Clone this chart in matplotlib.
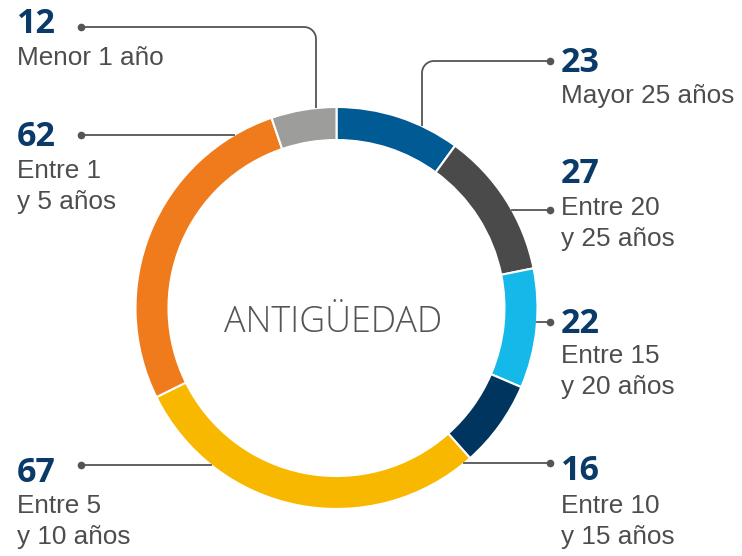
import numpy as np
import matplotlib
matplotlib.use("Agg")
import matplotlib.pyplot as plt

# ---- data ----
values = [23, 27, 22, 16, 67, 62, 12]
labels = ["Mayor 25 años", "Entre 20\ny 25 años", "Entre 15\ny 20 años",
          "Entre 10\ny 15 años", "Entre 5\ny 10 años", "Entre 1\ny 5 años",
          "Menor 1 año"]
colors = ["#005a94", "#4a4a4a", "#14b9ea", "#00355f", "#f9b800", "#f07b1c", "#9d9d9c"]
center_title = "ANTIGÜEDAD"

# ---- layout (pixel space, y down) ----
W, H = 742, 556
CX, CY, R, RING = 336.5, 308, 201, 33
side = ["R", "R", "R", "R", "L", "L", "L"]
dot_y = [61, 210, 322, 463, 465, 135, 27]
num_base = [72, 183, 333, 480, 482, 146, 33]
lab_base = [103, 215, 363, 513, 513, 178, 65]
vert_x = {0: 422, 6: 316}  # leaders that bend down to the ring

NUM_COLOR = "#0a3a68"
LAB_COLOR = "#4d4d4d"
LINE_COLOR = "#555555"

fig = plt.figure(figsize=(W / 100, H / 100), dpi=100)
ax = fig.add_axes([0, 0, 1, 1])

def Y(y):
    return H - y

ax.pie(values, colors=colors, startangle=90, counterclock=False,
       center=(CX, Y(CY)), radius=R,
       wedgeprops=dict(width=RING, edgecolor="white", linewidth=1.5))

ax.set_xlim(0, W)
ax.set_ylim(0, H)
ax.set_aspect("equal")
ax.axis("off")

ax.text(CX - 3, Y(332), center_title, ha="center", va="baseline",
        fontsize=25.8, color="#555555", family="Open Sans", fontweight="light")

for i, v in enumerate(values):
    s = side[i]
    dy = dot_y[i]
    dx = 550 if s == "R" else 81
    tx = 561 if s == "R" else 17
    if i in vert_x:
        vx = vert_x[i]
        ry = CY - np.sqrt(R ** 2 - (vx - CX) ** 2)
        rad = 12
        sgn = 1 if dx > vx else -1
        t = np.linspace(0, np.pi / 2, 20)
        arc_x = vx + sgn * rad - sgn * rad * np.sin(t)
        arc_y = dy + rad - rad * np.cos(t)
        xs = np.concatenate([[dx], arc_x, [vx]])
        ys = np.concatenate([[dy], arc_y, [ry]])
        ax.plot(xs, [Y(y) for y in ys], color=LINE_COLOR, lw=1.3,
                solid_capstyle="butt")
    else:
        off = np.sqrt(R ** 2 - (dy - CY) ** 2)
        rx = CX + off if s == "R" else CX - off
        ax.plot([dx, rx], [Y(dy), Y(dy)], color=LINE_COLOR, lw=1.3)
    ax.plot([dx], [Y(dy)], "o", color=LINE_COLOR, ms=4.5)
    ax.text(tx, Y(num_base[i]), str(v), ha="left", va="baseline",
            fontsize=24.5, fontweight="bold", color=NUM_COLOR, family="Open Sans")
    for j, line in enumerate(labels[i].split("\n")):
        ax.text(tx, Y(lab_base[i] + 31 * j), line, ha="left", va="baseline",
                fontsize=18.8, color=LAB_COLOR, family="Liberation Sans")

fig.savefig("out.png", dpi=100, facecolor="white")
